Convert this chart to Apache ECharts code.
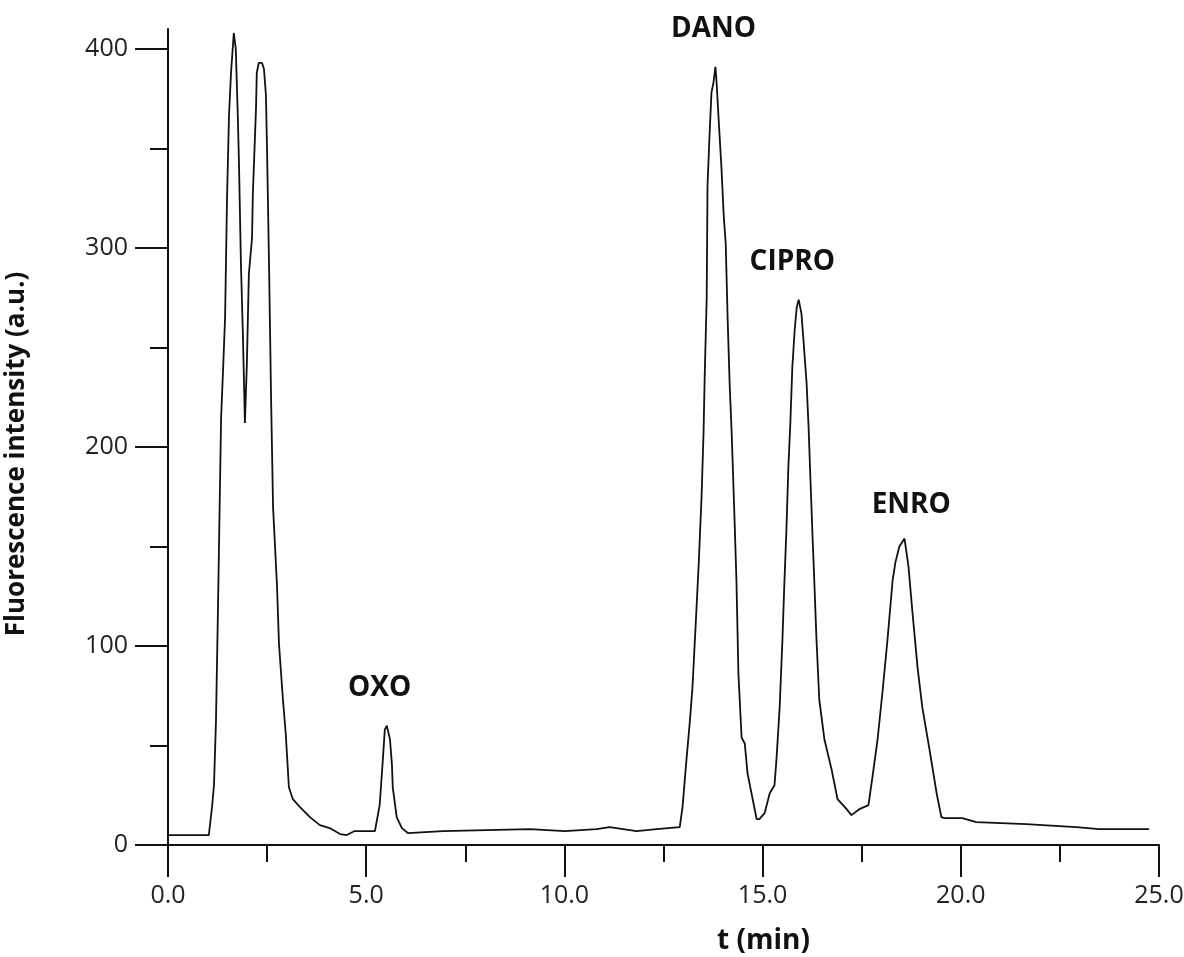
<!DOCTYPE html>
<html>
<head>
<meta charset="utf-8">
<title>Chromatogram</title>
<script src="https://cdn.jsdelivr.net/npm/echarts@6/dist/echarts.min.js"></script>
<style>
  html, body { margin: 0; padding: 0; background: #fff; }
  #main { width: 1184px; height: 957px; }
</style>
</head>
<body>
<div id="main"></div>
<script>
// retention time (min) and fluorescence (a.u.)
var times = [
  0.00, 1.03, 1.11, 1.16, 1.21, 1.26, 1.31, 1.34, 1.39, 1.44, 1.49, 1.54, 1.59, 1.66,
  1.71, 1.76, 1.79, 1.84, 1.89, 1.94, 1.99, 2.04, 2.12, 2.14, 2.22, 2.24, 2.29, 2.37,
  2.42, 2.47, 2.50, 2.55, 2.60, 2.62, 2.65, 2.67, 2.75, 2.80, 2.90, 2.97, 3.05, 3.15,
  3.33, 3.58, 3.83, 4.08, 4.34, 4.51, 4.71, 5.22, 5.34, 5.42, 5.47, 5.52, 5.60, 5.65,
  5.67, 5.77, 5.90, 6.05, 6.93, 9.13, 10.01, 10.81, 11.14, 11.82, 12.33, 12.91, 12.98,
  13.08, 13.16, 13.23, 13.31, 13.39, 13.46, 13.51, 13.54, 13.59, 13.61, 13.66, 13.71,
  13.76, 13.81, 13.84, 13.89, 13.96, 14.02, 14.07, 14.12, 14.17, 14.22, 14.24, 14.29,
  14.34, 14.39, 14.47, 14.55, 14.62, 14.75, 14.85, 14.92, 15.05, 15.18, 15.30, 15.35,
  15.43, 15.50, 15.55, 15.60, 15.65, 15.70, 15.75, 15.81, 15.86, 15.91, 15.98, 16.03,
  16.11, 16.16, 16.21, 16.26, 16.29, 16.36, 16.43, 16.56, 16.74, 16.89, 17.12, 17.24,
  17.44, 17.67, 17.77, 17.90, 18.02, 18.15, 18.28, 18.35, 18.45, 18.58, 18.68, 18.78,
  18.91, 19.03, 19.21, 19.39, 19.51, 19.59, 20.04, 20.39, 21.65, 22.91, 23.49, 24.75
];
var intensity = [
  5, 5, 19, 30, 62, 118, 179, 215, 239, 265, 326, 367, 388, 408,
  400, 367, 343, 292, 256, 212, 242, 287, 305, 327, 370, 388, 393, 393,
  390, 377, 348, 290, 225, 203, 170, 162, 130, 101, 73, 56, 29, 23,
  19, 14, 10, 8.5, 5.5, 5, 7, 7, 20, 43, 58, 60, 53, 40,
  29, 14, 8.5, 6, 7, 8, 7, 8, 9, 7, 8, 9, 19,
  43, 61, 79, 110, 142, 175, 207, 236, 275, 331, 356, 378,
  383, 391, 383, 365, 341, 316, 302, 263, 231, 207, 195, 165,
  133, 86, 54, 51, 36, 23, 13, 13, 16, 26, 30, 43,
  69, 103, 132, 158, 190, 212, 240, 259, 270, 274, 267, 254,
  232, 210, 182, 155, 140, 103, 73, 53, 38, 23, 18, 15,
  18, 20, 34, 53, 76, 103, 133, 142, 150, 154, 140, 117,
  89, 69, 48, 26, 14, 13.5, 13.5, 11.5, 10.5, 9, 8, 8
];

// peak names and where their labels sit (data units)
var peakNames = ['OXO', 'DANO', 'CIPRO', 'ENRO'];
var peakLabelT = [5.34, 13.76, 15.75, 18.75];
var peakLabelV = [79, 410, 293, 171];

// ticks
var xMajor = [0, 5, 10, 15, 20, 25];
var xMinor = [2.5, 7.5, 12.5, 17.5, 22.5];
var yMajor = [0, 100, 200, 300, 400];
var yMinor = [50, 150, 250, 350];

var chart = echarts.init(document.getElementById('main'));

var points = times.map(function(t, i){ return [t, intensity[i]]; });
var labels = peakNames.map(function(n, i){
  return { name: n, coord: [peakLabelT[i], peakLabelV[i]] };
});

var tickFont = { fontFamily: 'Open Sans', fontSize: 25, color: '#222' };
var boldFont = { fontFamily: 'Open Sans', fontWeight: 'bold', color: '#111' };
var tickLine = { color: '#111', width: 2 };

chart.setOption({
  backgroundColor: '#fff',
  animation: false,
  grid: { left: 168, right: 25, top: 29, bottom: 112, outerBoundsMode: 'none' },
  xAxis: [{
    type: 'value', min: 0, max: 25,
    name: 't (min)', nameLocation: 'middle', nameGap: 82,
    nameTextStyle: Object.assign({ fontSize: 28, padding: [0, 0, 0, 200] }, boldFont),
    axisLine: { lineStyle: tickLine },
    axisTick: { customValues: xMajor, length: 32, lineStyle: tickLine },
    axisLabel: Object.assign({
      customValues: xMajor, margin: 38,
      formatter: function(v){ return v.toFixed(1); }
    }, tickFont),
    splitLine: { show: false }
  }, {
    type: 'value', min: 0, max: 25, position: 'bottom',
    axisLine: { show: false },
    axisTick: { customValues: xMinor, length: 17, lineStyle: tickLine },
    axisLabel: { show: false },
    splitLine: { show: false }
  }],
  yAxis: [{
    type: 'value', min: 0, max: 410,
    name: 'Fluorescence intensity (a.u.)', nameLocation: 'middle', nameGap: 138,
    nameTextStyle: Object.assign({ fontSize: 26, padding: [0, 34, 0, 0] }, boldFont),
    axisLine: { show: true, lineStyle: tickLine },
    axisTick: { customValues: yMajor, length: 33, lineStyle: tickLine },
    axisLabel: Object.assign({ customValues: yMajor, margin: 40 }, tickFont),
    splitLine: { show: false }
  }, {
    type: 'value', min: 0, max: 410, position: 'left',
    axisLine: { show: false },
    axisTick: { show: true, customValues: yMinor, length: 18, lineStyle: tickLine },
    axisLabel: { show: false },
    splitLine: { show: false }
  }],
  series: [{
    type: 'line',
    data: points,
    showSymbol: false,
    symbol: 'none',
    lineStyle: { color: '#111', width: 1.8 },
    markPoint: {
      symbol: 'circle',
      symbolSize: 0,
      label: Object.assign({
        show: true, position: 'inside', fontSize: 28,
        formatter: function(p){ return p.name; }
      }, boldFont),
      data: labels
    }
  }]
});
</script>
</body>
</html>
